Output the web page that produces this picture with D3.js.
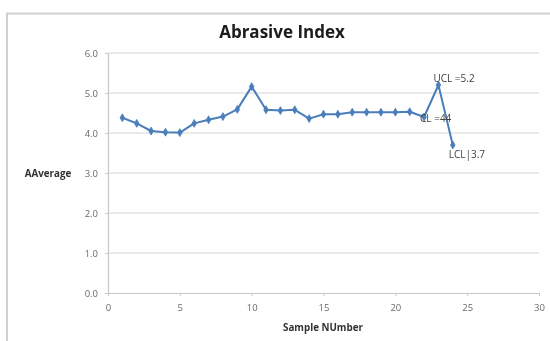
<!DOCTYPE html>
<html>
<head>
<meta charset="utf-8">
<script src="https://cdn.jsdelivr.net/npm/d3@7"></script>
<style>
  html, body { margin: 0; padding: 0; background: #fff; }
  svg { display: block; }
</style>
</head>
<body>
<svg id="chart" width="550" height="341"></svg>
<script>
// Sample numbers and their averages
const samples = [1, 2, 3, 4, 5, 6, 7, 8, 9, 10, 11, 12, 13, 14, 15, 16, 17, 18, 19, 20, 21, 22, 23, 24];
const averages = [4.38, 4.24, 4.05, 4.02, 4.01, 4.24, 4.33, 4.41, 4.59, 5.16, 4.58, 4.56, 4.58, 4.36, 4.47, 4.47, 4.52, 4.52, 4.52, 4.52, 4.53, 4.4, 5.2, 3.7];
const xTicks = [0, 5, 10, 15, 20, 25, 30];
const yTicks = [0, 1, 2, 3, 4, 5, 6];
// Control-limit annotations: [sample index, text]
const notes = [
  { sample: 23, text: "UCL =5.2" },
  { sample: 22, text: "CL =44" },
  { sample: 24, text: "LCL|3.7" }
];

const svg = d3.select("#chart");
const font = "'Open Sans', 'Liberation Sans', sans-serif";

const defs = svg.append("defs");
defs.append("filter").attr("id", "soft")
  .append("feGaussianBlur").attr("stdDeviation", 0.45);

const root = svg.append("g").attr("filter", "url(#soft)");

// chart frame (top and left edges visible)
root.append("path")
  .attr("d", "M7,345 L7,13.5 L555,13.5")
  .attr("fill", "none").attr("stroke", "#d0d0d0").attr("stroke-width", 2);

const x = d3.scaleLinear().domain([0, 30]).range([108, 539]);
const y = d3.scaleLinear().domain([0, 6]).range([293, 53]);

// horizontal gridlines
root.append("g").selectAll("line").data(yTicks.filter(d => d > 0)).join("line")
  .attr("x1", x(0)).attr("x2", x(30))
  .attr("y1", d => y(d)).attr("y2", d => y(d))
  .attr("stroke", "#d6d6d6").attr("stroke-width", 1.2);

// y axis
const yAxis = root.append("g").attr("transform", `translate(${x(0)},0)`)
  .call(d3.axisLeft(y).tickValues(yTicks).tickFormat(d3.format(".1f")).tickSize(3).tickSizeOuter(0));
yAxis.select(".domain").attr("stroke", "#c8c8c8").attr("stroke-width", 1.2);
yAxis.selectAll(".tick line").attr("stroke", "#c8c8c8");
yAxis.selectAll("text").attr("font-family", font).attr("font-size", 9.5)
  .attr("fill", "#6a6a6a").attr("x", -10);

// x axis
const xAxis = root.append("g").attr("transform", `translate(0,${y(0)})`)
  .call(d3.axisBottom(x).tickValues(xTicks).tickSize(3).tickSizeOuter(0));
xAxis.select(".domain").attr("stroke", "#c8c8c8").attr("stroke-width", 1.2);
xAxis.selectAll(".tick line").attr("stroke", "#c8c8c8");
xAxis.selectAll("text").attr("font-family", font).attr("font-size", 9.5)
  .attr("fill", "#6a6a6a").attr("dy", "1.3em");

// title and axis titles
root.append("text").attr("x", 282).attr("y", 38).attr("text-anchor", "middle")
  .attr("font-family", font).attr("font-weight", "bold").attr("font-size", 17)
  .attr("fill", "#1a1a1a").text("Abrasive Index");
root.append("text").attr("x", 48).attr("y", 177).attr("text-anchor", "middle")
  .attr("font-family", font).attr("font-weight", "bold").attr("font-size", 9.8)
  .attr("fill", "#333").text("AAverage");
root.append("text").attr("x", 323).attr("y", 331).attr("text-anchor", "middle")
  .attr("font-family", font).attr("font-weight", "bold").attr("font-size", 9.8)
  .attr("fill", "#333").text("Sample NUmber");

// data series
const pts = samples.map((s, i) => ({ s, v: averages[i] }));
const blue = "#4a7ebb";
root.append("path").datum(pts)
  .attr("fill", "none").attr("stroke", blue).attr("stroke-width", 2)
  .attr("stroke-linejoin", "round")
  .attr("d", d3.line().x(d => x(d.s)).y(d => y(d.v)));
root.append("g").selectAll("path").data(pts).join("path")
  .attr("transform", d => `translate(${x(d.s)},${y(d.v)})`)
  .attr("d", d3.symbol(d3.symbolDiamond, 18)())
  .attr("fill", blue).attr("stroke", blue).attr("stroke-width", 0.8);

// control-limit labels
const labelPos = {
  23: { dx: -5, dy: -3 },
  22: { dx: -4, dy: 4.5 },
  24: { dx: -4, dy: 12.5 }
};
root.append("g").selectAll("text").data(notes).join("text")
  .attr("x", d => x(d.sample) + labelPos[d.sample].dx)
  .attr("y", d => y(averages[samples.indexOf(d.sample)]) + labelPos[d.sample].dy)
  .attr("font-family", font).attr("font-size", 10)
  .attr("fill", "#404040").text(d => d.text);
</script>
</body>
</html>
